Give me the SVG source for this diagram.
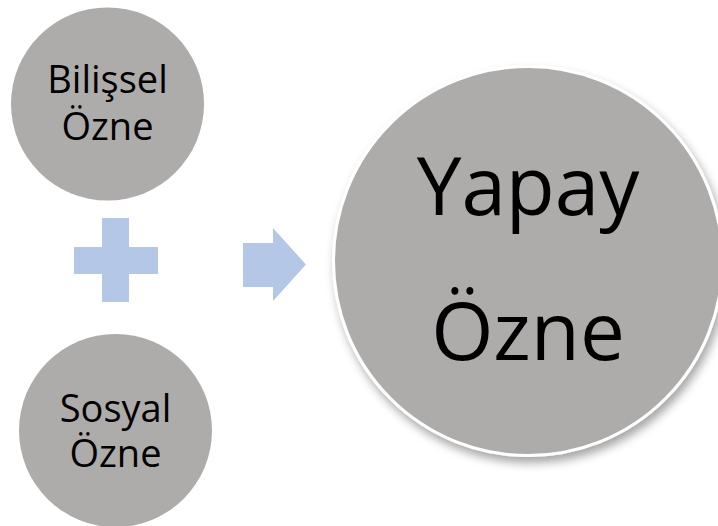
<svg xmlns="http://www.w3.org/2000/svg" width="718" height="526" viewBox="0 0 718 526">
  <defs>
    <filter id="shadow" x="-20%" y="-20%" width="140%" height="140%">
      <feDropShadow dx="3" dy="6" stdDeviation="5" flood-color="#000" flood-opacity="0.35"/>
    </filter>
  </defs>
  <style>
    .circle { fill: #AEABAB; }
    .big { stroke: #FFFFFF; stroke-width: 3; filter: url(#shadow); }
    .label { font-family: "Open Sans", "Liberation Sans", sans-serif; fill: #000; text-anchor: middle; }
    .small { font-size: 38px; }
    .large { font-size: 80px; }
    .sym { fill: #B4C7E7; }
  </style>
  <rect width="718" height="526" fill="#FFFFFF"/>
  <g id="bilissel">
    <circle class="circle" cx="107.5" cy="104" r="96.5"/>
    <text class="label small" x="107.5" y="93">Bilişsel</text>
    <text class="label small" x="107.5" y="140">Özne</text>
  </g>
  <g id="sosyal">
    <circle class="circle" cx="115.5" cy="430.5" r="96.5"/>
    <text class="label small" x="115.5" y="422">Sosyal</text>
    <text class="label small" x="115.5" y="467">Özne</text>
  </g>
  <g id="yapay">
    <circle class="circle big" cx="528" cy="261" r="194.5"/>
    <text class="label large" x="528" y="215">Yapay</text>
    <text class="label large" x="528" y="360">Özne</text>
  </g>
  <g id="connectors">
    <path class="sym" d="M102,218 H129 V247 H158 V274 H129 V302 H102 V274 H74 V247 H102 Z"/>
    <path class="sym" d="M243,243 H273 V228 L306,264.5 L273,301 V287 H243 Z"/>
  </g>
</svg>
